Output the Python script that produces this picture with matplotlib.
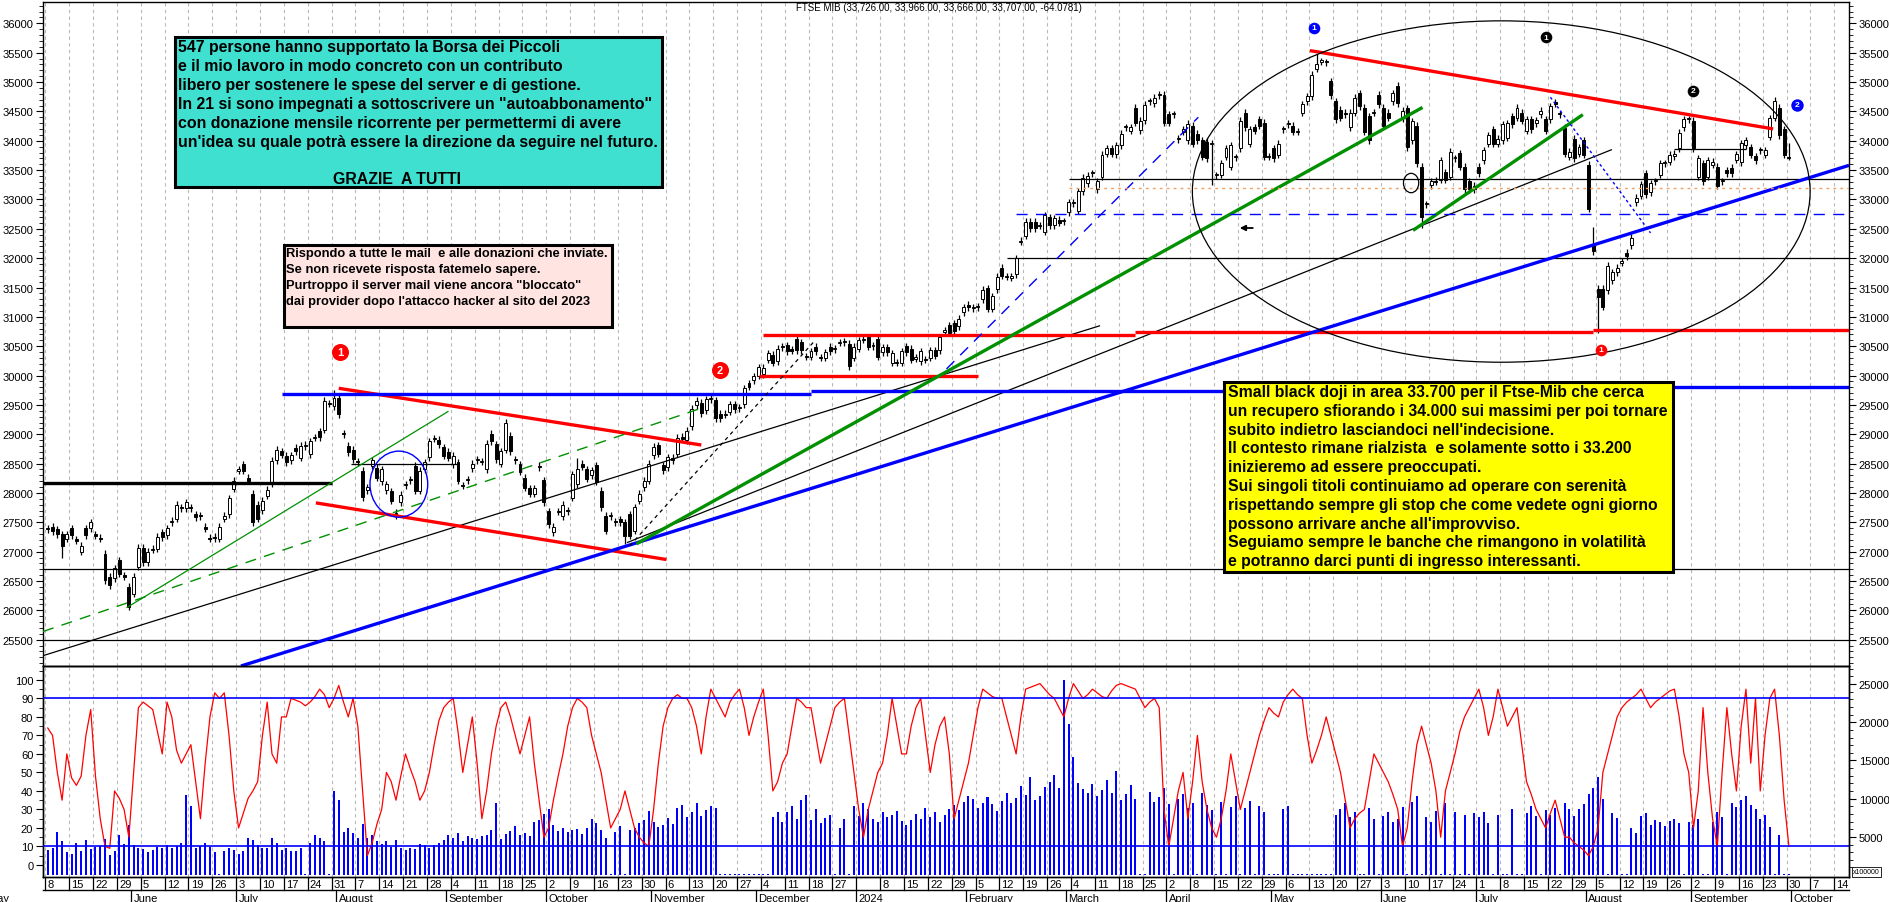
import numpy as np
import pandas as pd
import matplotlib
matplotlib.use("Agg")
import matplotlib.pyplot as plt
import matplotlib.transforms as mtransforms
from matplotlib.patches import Ellipse, Rectangle

plt.rcParams['font.family'] = ['Liberation Sans', 'DejaVu Sans']

# ---- daily candles, one row per week (Mon..Fri), 8 May 2023 -> 30 Sep 2024
opens = [
    [27380, 27420, 27380, 27300, 27220], [27400, 27200, 27000, 27400, 27400],
    [27300, 27240, 26960, 26570, 26550], [26850, 26600, 26400, 26280, 26740],
    [27070, 26820, 27030, 27050, 27330], [27280, 27500, 27560, 27760, 27740],
    [27760, 27640, 27610, 27420, 27240], [27250, 27220, 27560, 27640, 28070],
    [28380, 28490, 28260, 27990, 27800], [27710, 27950, 28160, 28560, 28710],
    [28630, 28560, 28770, 28600, 28800], [28660, 28940, 29050, 29080, 29530],
    [29480, 29620, 29020, 28800, 28740], [28540, 28380, 28050, 28460, 28430],
    [28200, 28050, 28030, 27660, 27840], [28130, 28220, 28460, 28040, 28400],
    [28610, 28920, 28910, 28780, 28700], [28490, 28520, 28130, 28220, 28420],
    [28560, 28530, 28400, 29010, 28830], [28500, 28740, 28970, 28570, 28490],
    [28260, 28080, 27990, 28440, 28220], [27690, 27330, 27680, 27600, 27700],
    [27920, 28150, 28500, 28400, 28300], [28470, 28040, 27610, 27600, 27510],
    [27550, 27500, 27640, 27360, 27870], [28100, 28210, 28640, 28810, 28470],
    [28440, 28600, 28670, 28960, 28900], [29140, 29490, 29540, 29410, 29600],
    [29580, 29350, 29330, 29380, 29510], [29440, 29510, 29870, 29920, 30000],
    [30020, 30270, 30350, 30240, 30480], [30520, 30450, 30620, 30570, 30330],
    [30320, 30490, 30310, 30300, 30490], [30450, 30560, 30570, 30540, 30300],
    [30460, 30610, 30650, 30500, 30620], [30400, 30480, 30220, 30230, 30220],
    [30500, 30460, 30290, 30240, 30280], [30300, 30430, 30430, 30750, 30860],
    [30890, 30840, 31080, 31210, 31150], [31160, 31300, 31490, 31140, 31470],
    [31840, 31680, 31670, 31730, 32280], [32380, 32620, 32620, 32550, 32450],
    [32700, 32560, 32650, 32630, 32780], [32940, 32810, 33140, 33280, 33450],
    [33170, 33390, 33780, 33870, 33770], [33920, 34230, 34170, 34560, 34180],
    [34350, 34670, 34640, 34780, 34780], [34450, 34450, 34030, 34150, 34010],
    [34260, 34120, 34010, 33980, 33950], [33410, 33420, 33730, 33560, 33720],
    [33870, 34480, 33950, 34230, 34370], [34310, 33730, 33870, 33760, 34200],
    [34280, 34260, 34150, 34480, 34670], [34760, 35230, 35350, 35340, 35010],
    [34670, 34530, 34480, 34230, 34480], [34810, 34560, 34420, 34480, 34780],
    [34560, 34480, 34670, 34940, 34380], [34550, 34010, 34260, 33560, 32920],
    [33240, 33320, 33340, 33460, 33390], [33700, 33790, 33560, 33310, 33170],
    [33560, 33670, 33950, 34200, 33950], [34010, 34050, 34420, 34390, 34480],
    [34170, 34370, 34300, 34450, 34370], [34370, 34660, 34450, 34220, 33730],
    [34030, 33780, 34010, 33590, 32230], [31480, 31480, 31450, 31620, 31760],
    [31920, 32090, 32220, 32950, 33060], [33450, 33120, 33310, 33420, 33620],
    [33640, 33740, 33870, 34230, 34370], [34340, 33390, 33620, 33390, 33590],
    [33560, 33310, 33500, 33540, 33680], [33630, 33920, 33890, 33740, 33840],
    [33760, 34070, 34390, 34560, 34200], [33726],
]
closes = [
    [27400, 27350, 27300, 27100, 27300], [27280, 27190, 27100, 27280, 27500],
    [27270, 27220, 26510, 26430, 26720], [26620, 26570, 26060, 26570, 27070],
    [26820, 27000, 27050, 27250, 27250], [27400, 27530, 27800, 27740, 27840],
    [27740, 27590, 27600, 27390, 27220], [27230, 27420, 27610, 27910, 28210],
    [28400, 28380, 28210, 27500, 27560], [27870, 28050, 28550, 28740, 28650],
    [28520, 28640, 28710, 28800, 28820], [28880, 28950, 28950, 29570, 29520],
    [29620, 29340, 29000, 28690, 28570], [28520, 27930, 28100, 28560, 28260],
    [28400, 28150, 27870, 27640, 27970], [28150, 28230, 28040, 28380, 28520],
    [28880, 28930, 28830, 28630, 28600], [28630, 28210, 28120, 28230, 28500],
    [28570, 28540, 28840, 28880, 28570], [28710, 29200, 28710, 28560, 28360],
    [28090, 27990, 28080, 28460, 27840], [27470, 27420, 27690, 27800, 27690],
    [28320, 28400, 28450, 28240, 28390], [28190, 27760, 27360, 27610, 27500],
    [27500, 27270, 27270, 27760, 27990], [28210, 28500, 28790, 28670, 28390],
    [28610, 28560, 28940, 28920, 29060], [29430, 29570, 29360, 29600, 29620],
    [29270, 29270, 29350, 29510, 29430], [29460, 29785, 29810, 29990, 30140],
    [30130, 30380, 30220, 30460, 30490], [30410, 30420, 30430, 30430, 30320],
    [30410, 30410, 30300, 30400, 30410], [30460, 30570, 30580, 30160, 30490],
    [30600, 30620, 30490, 30510, 30320], [30480, 30400, 30380, 30220, 30410],
    [30400, 30270, 30300, 30410, 30270], [30430, 30340, 30650, 30760, 30730],
    [30760, 30970, 31160, 31160, 31160], [31170, 31460, 31140, 31350, 31680],
    [31700, 31690, 31680, 32000, 32300], [32620, 32510, 32510, 32560, 32730],
    [32560, 32680, 32600, 32630, 32950], [32940, 33140, 33370, 33400, 33450],
    [33310, 33760, 33870, 33780, 33920], [34120, 34230, 34230, 34310, 34340],
    [34610, 34670, 34730, 34780, 34310], [34310, 34450, 34030, 34200, 34290],
    [33950, 34010, 33730, 33700, 33950], [33410, 33620, 33870, 33920, 33720],
    [34340, 34230, 34200, 34170, 34260], [33730, 33730, 33700, 33950, 34200],
    [34300, 34150, 34150, 34620, 34760], [35120, 35310, 35350, 35340, 34780],
    [34370, 34390, 34450, 34480, 34730], [34590, 34150, 34010, 34480, 34620],
    [34260, 34390, 34810, 34640, 34510], [33890, 34330, 33620, 32700, 32920],
    [33310, 33300, 33670, 33340, 33810], [33700, 33560, 33170, 33170, 33230],
    [33450, 33840, 34090, 33950, 34030], [34280, 34300, 34280, 34560, 34340],
    [34370, 34200, 34350, 34510, 34170], [34590, 34630, 34450, 33780, 33810],
    [33700, 33890, 33760, 32840, 32120], [31340, 31170, 31870, 31760, 31840],
    [31950, 32030, 32350, 33030, 33260], [33090, 33280, 33310, 33620, 33620],
    [33760, 33780, 34140, 34370, 34370], [33870, 33700, 33310, 33670, 33640],
    [33230, 33310, 33450, 33450, 33770], [33960, 34010, 33760, 33670, 33840],
    [33840, 34380, 34670, 34090, 33760], [33707],
]
# long shadows that stand out (day index -> price)
high_ext = {60: 29760, 96: 29260, 111: 28590, 266: 35480, 324: 32530,
            362: 34750, 365: 33966}
low_ext = {3: 26900, 17: 26000, 73: 27560, 121: 27130, 244: 33250,
           288: 32510, 325: 30730, 365: 33666}

# volume (right scale of lower panel, x100000)
volume = [
    [3300, 3500, 5600, 4500, 3000], [2800, 4200, 3200, 4600, 3400],
    [3700, 3800, 4700, 2600, 3100], [5200, 4100, 6600, 3900, 3600],
    [3400, 3000, 3300, 3700, 3500], [4000, 3500, 3800, 4200, 10500],
    [9000, 3600, 3800, 4200, 3700], [3000, 150, 3200, 3500, 3300],
    [2700, 3100, 4800, 4600, 3900], [3500, 3600, 4900, 4200, 3300],
    [3500, 3200, 3100, 3600, 150], [4200, 5200, 4800, 4500, 150],
    [11000, 9800, 5600, 6100, 5500], [4800, 6700, 4900, 5200, 4500],
    [4100, 4400, 3700, 4600, 3500], [3300, 3600, 3400, 4100, 3900],
    [3500, 3900, 4200, 4600, 5200], [4800, 5500, 4400, 5100, 4800],
    [4700, 5100, 5300, 5900, 9500], [4700, 5400, 5800, 6400, 5200],
    [5500, 5100, 6900, 7200, 8000], [8600, 6500, 5800, 6200, 5600],
    [5900, 6000, 5400, 6100, 7300], [6800, 5900, 4800, 150, 5600],
    [6400, 150, 5900, 6100, 6800], [7200, 8400, 6900, 6300, 6600],
    [7500, 6700, 8800, 9200, 7600], [8200, 9400, 7800, 8500, 9100],
    [8800, 200, 150, 180, 150], [200, 150, 180, 160, 200],
    [150, 180, 7600, 8300, 6900], [8200, 9100, 7400, 9800, 10500],
    [7200, 8600, 6800, 7500, 7900], [150, 6100, 7400, 150, 9000],
    [7800, 9500, 8700, 7400, 6900], [8200, 7600, 7900, 8400, 7100],
    [6500, 7200, 8000, 7400, 8800], [7600, 8300, 7000, 7900, 8700],
    [9200, 8500, 9600, 10400, 9900], [8800, 9500, 10200, 9300, 8400],
    [9700, 10800, 9400, 10100, 11600], [10500, 12800, 9800, 10300, 11500],
    [12200, 13100, 11400, 25500, 19800], [15500, 12100, 11300, 10800, 11900],
    [10400, 11200, 12400, 10700, 13600], [9800, 10600, 11800, 9900, 150],
    [150, 10900, 9600, 10200, 11400], [9300, 150, 9900, 10600, 8800],
    [9400, 150, 10800, 9200, 8500], [150, 9600, 150, 8900, 10400],
    [150, 8800, 9700, 150, 9100], [8300, 150, 150, 150, 8700],
    [9000, 150, 200, 150, 180], [150, 200, 150, 160, 150],
    [7900, 8600, 9400, 7600, 8200], [150, 150, 8800, 7300, 150],
    [7700, 8300, 6900, 7400, 8900], [150, 9600, 10300, 150, 7600],
    [6900, 8400, 150, 9500, 150], [8200, 150, 7900, 150, 8100],
    [7600, 8300, 6800, 150, 7900], [150, 150, 8700, 150, 150],
    [8100, 9000, 7800, 150, 8500], [7900, 8800, 150, 9400, 8600],
    [7800, 8700, 9300, 10600, 11400], [12800, 9900, 150, 8100, 7500],
    [150, 150, 6200, 5500, 7800], [8100, 6600, 7200, 6900, 6400],
    [7100, 7300, 6800, 150, 7000], [6600, 7400, 150, 150, 6900],
    [8200, 7600, 150, 9500, 8900], [9800, 10400, 9200, 8600, 7400],
    [7900, 6300, 150, 5200, 150], [150],
]

# oscillator (left scale of lower panel)
osc = [
    [74, 70, 50, 35, 60], [47, 43, 48, 70, 84], [48, 25, 10, 9, 40],
    [36, 30, 15, 50, 85], [88, 86, 84, 72, 60], [88, 80, 62, 55, 60],
    [65, 45, 25, 55, 80], [93, 90, 93, 70, 40], [20, 28, 36, 40, 45],
    [70, 88, 60, 55, 80], [80, 90, 89, 88, 86], [88, 91, 95, 92, 85],
    [90, 97, 88, 80, 90], [75, 40, 5, 12, 22], [30, 50, 45, 35, 48],
    [60, 52, 45, 35, 40], [50, 65, 78, 85, 88], [90, 72, 50, 65, 80],
    [55, 25, 40, 60, 75], [85, 88, 80, 70, 60], [70, 80, 55, 35, 15],
    [20, 35, 48, 60, 75], [85, 90, 88, 85, 70], [60, 50, 35, 20, 25],
    [30, 40, 30, 20, 15], [12, 10, 30, 55, 75], [85, 90, 92, 90, 90],
    [85, 75, 60, 80, 95], [90, 85, 80, 88, 92], [95, 85, 70, 80, 88],
    [95, 70, 40, 45, 55], [60, 75, 90, 88, 85], [85, 70, 55, 65, 75],
    [85, 88, 90, 70, 50], [30, 15, 30, 40, 50], [55, 70, 90, 75, 60],
    [60, 75, 85, 90, 70], [50, 65, 75, 80, 60], [25, 35, 45, 55, 70],
    [85, 95, 93, 91, 90], [90, 80, 70, 60, 80], [95, 96, 97, 98, 95],
    [92, 90, 85, 80, 90], [98, 94, 90, 92, 95], [93, 91, 90, 94, 97],
    [98, 97, 96, 95, 90], [85, 88, 90, 85, 30], [10, 25, 40, 50, 25],
    [45, 70, 45, 30, 20], [15, 25, 40, 60, 45], [30, 40, 50, 60, 70],
    [78, 85, 82, 80, 88], [92, 95, 92, 90, 70], [55, 62, 70, 80, 70],
    [60, 50, 35, 20, 25], [28, 30, 45, 60, 55], [50, 45, 38, 30, 10],
    [20, 45, 65, 75, 65], [55, 40, 15, 40, 50], [60, 72, 80, 85, 90],
    [95, 85, 70, 80, 95], [85, 75, 80, 85, 65], [45, 38, 30, 25, 20],
    [28, 35, 25, 15, 15], [12, 10, 8, 5, 10], [20, 50, 60, 70, 80],
    [85, 88, 90, 92, 95], [90, 85, 88, 90, 92], [94, 95, 80, 60, 50],
    [20, 40, 85, 50, 25], [10, 50, 85, 60, 40], [75, 95, 55, 90, 40],
    [70, 90, 95, 70, 35], [10],
]

holidays = ['2023-08-15', '2023-12-25', '2023-12-26', '2024-01-01',
            '2024-03-29', '2024-04-01', '2024-05-01', '2024-08-15']

title = "FTSE MIB (33,726.00, 33,966.00, 33,666.00, 33,707.00, -64.0781)"

box1_lines = [
    "547 persone hanno supportato la Borsa dei Piccoli",
    "e il mio lavoro in modo concreto con un contributo",
    "libero per sostenere le spese del server e di gestione.",
    "In 21 si sono impegnati a sottoscrivere un \"autoabbonamento\"",
    "con donazione mensile ricorrente per permettermi di avere",
    "un'idea su quale potrà essere la direzione da seguire nel futuro.",
]
box1_footer = "GRAZIE  A TUTTI"
box2_lines = [
    "Rispondo a tutte le mail  e alle donazioni che inviate.",
    "Se non ricevete risposta fatemelo sapere.",
    "Purtroppo il server mail viene ancora \"bloccato\"",
    "dai provider dopo l'attacco hacker al sito del 2023",
]
box3_lines = [
    "Small black doji in area 33.700 per il Ftse-Mib che cerca",
    "un recupero sfiorando i 34.000 sui massimi per poi tornare",
    "subito indietro lasciandoci nell'indecisione.",
    "Il contesto rimane rialzista  e solamente sotto i 33.200",
    "inizieremo ad essere preoccupati.",
    "Sui singoli titoli continuiamo ad operare con serenità",
    "rispettando sempre gli stop che come vedete ogni giorno",
    "possono arrivare anche all'improvviso.",
    "Seguiamo sempre le banche che rimangono in volatilità",
    "e potranno darci punti di ingresso interessanti.",
]

# hand drawn studies: (day0, price0, day1, price1)
red_thick = [(61, 29783, 137, 28817), (56.2, 27831, 129.7, 26866),
             (264.6, 35536, 361.7, 34202), (150, 30690, 228, 30690),
             (228, 30740, 324, 30740), (324, 30770, 378, 30770),
             (149, 29990, 195, 29990)]
blue_thick = [(40.5, 25052, 377.6, 33581), (49, 29680, 160, 29680),
              (160, 29740, 325, 29740), (325, 29800, 378, 29800)]
green_thick = [(123.4, 27133, 288.2, 34568), (286.2, 32473, 321.8, 34445)]
green_thin = [(16.5, 26044, 84, 29392)]
green_dashed = [(-1, 25640, 136.6, 29433)]
black_thin = [(-1, 25228, 220.6, 30850), (121.4, 27153, 327.9, 33850),
              (63.5, 28500, 86.3, 28500), (341, 33860, 356, 33860),
              (-1, 26700, 378, 26700), (-1, 25500, 378, 25500),
              (201, 32000, 378, 32000), (214, 33350, 378, 33350)]
black_thick = [(-1, 28170, 59.6, 28170)]
blue_dashed = [(188.4, 30113, 241.2, 34401), (203, 32750, 378, 32750)]
blue_dotted = [(315, 34742, 336, 32430)]
black_dotted = [(122, 27100, 160.5, 30567)]
orange_dotted = [(214, 33200, 378, 33200)]
# (day, price, label, colour, size)
markers = [(61.3, 30399, '1', '#ff0000', 150), (140.9, 30091, '2', '#ff0000', 150),
           (265.4, 35924, '1', '#0000ff', 70), (314, 35760, '1', '#000000', 70),
           (344.8, 34856, '2', '#000000', 70), (366.8, 34610, '2', '#0000ff', 80),
           (325.6, 30440, '1', '#ff0000', 70)]

# -------------------------------------------------------------------------
o = np.array(sum(opens, []), float)
c = np.array(sum(closes, []), float)
v = np.array(sum(volume, []), float)
k = np.array(sum(osc, []), float)
dates = pd.bdate_range('2023-05-08', '2024-09-30')
n = len(dates)
assert len(o) == n and len(c) == n and len(v) == n and len(k) == n, (len(o), len(c), len(v), len(k), n)
x = np.arange(n)

hi = np.maximum(o, c) + 60
lo = np.minimum(o, c) - 60
for d, p in high_ext.items():
    hi[d] = p
for d, p in low_ext.items():
    lo[d] = p

W, H = 1890, 903
def fbox(l, t, r, b):
    return [l / W, 1 - b / H, (r - l) / W, (b - t) / H]

fig = plt.figure(figsize=(18.9, 9.03), dpi=100)
ax = fig.add_axes(fbox(43, 3, 1849, 667))
ax2 = fig.add_axes(fbox(43, 667, 1849, 878), sharex=ax)
axv = ax2.twinx()

XL = (-1.0, 377.6)
ax.set_xlim(*XL)
ax.set_ylim(25052, 36364)

# weekly grid
future = pd.bdate_range('2024-10-01', '2024-10-18')
alldates = dates.append(future)
week_idx = [i for i, d in enumerate(alldates) if d.weekday() == 0]
for i in week_idx:
    for a in (ax, ax2):
        a.axvline(i - 0.5, color='#b8b8b8', lw=0.8, dashes=(3, 3), zorder=0)

# candles
up = c >= o
body_lo = np.minimum(o, c)
body_h = np.maximum(np.abs(c - o), 18)
ax.vlines(x, lo, hi, color='black', lw=0.9, zorder=3)
ax.bar(x, body_h, bottom=body_lo, width=0.62,
       color=np.where(up, 'white', 'black'), edgecolor='black', linewidth=0.7, zorder=3.1)

def draw(segs, **kw):
    for x0, y0, x1, y1 in segs:
        ax.plot([x0, x1], [y0, y1], solid_capstyle='butt', **kw)

draw(black_thin, color='black', lw=0.9, zorder=4)
draw(black_thick, color='black', lw=2.4, zorder=4)
draw(red_thick, color='#ff0000', lw=2.4, zorder=4)
draw(blue_thick, color='#0000ff', lw=2.4, zorder=4)
draw(green_thick, color='#009000', lw=2.4, zorder=4)
draw(green_thin, color='#009000', lw=0.9, zorder=4)
draw(green_dashed, color='#009000', lw=1.0, dashes=(8, 6), zorder=4)
draw(blue_dashed, color='#0000ff', lw=1.0, dashes=(8, 6), zorder=4)
draw(blue_dotted, color='#0000ff', lw=1.0, dashes=(2, 2), zorder=4)
draw(black_dotted, color='black', lw=0.9, dashes=(3, 3), zorder=4)
draw(orange_dotted, color='#f0a060', lw=1.0, dashes=(2, 3), zorder=4)

ax.add_patch(Ellipse((73.6, 28150), 12.1, 1125, fill=False, ec='#0000ff', lw=1.0, zorder=4))
ax.add_patch(Ellipse((304.7, 33135), 129.5, 5816, fill=False, ec='black', lw=0.9, zorder=4))
ax.add_patch(Ellipse((285.8, 33280), 3.2, 330, fill=False, ec='black', lw=0.9, zorder=4))
ax.annotate('', xy=(249.3, 32514), xytext=(253.2, 32514),
            arrowprops=dict(arrowstyle='-|>', color='black', lw=1.3, mutation_scale=8), zorder=5)

for d, p, lab, col, s in markers:
    ax.scatter([d], [p], s=s, color=col, zorder=6, linewidths=0)
    ax.text(d, p, lab, color='white', fontsize=6 if s < 100 else 8, fontweight='bold',
            ha='center', va='center', zorder=7)

ax.yaxis.set_ticks_position('both')
ax.set_yticks(np.arange(25500, 36001, 500))
ax.set_yticks(np.arange(25100, 36400, 100), minor=True)
ax.tick_params(axis='y', which='major', labelleft=True, labelright=True,
               direction='out', length=5, labelsize=8, pad=2)
ax.tick_params(axis='y', which='minor', direction='out', length=3)
ax.tick_params(axis='x', which='both', bottom=False, labelbottom=False)

# lower panel: volume bars on the right scale, oscillator on the left scale
axv.bar(x, v, width=0.42, color='#0000ff', zorder=2)
axv.set_ylim(-250, 27370)
axv.set_yticks(np.arange(5000, 25001, 5000))
axv.set_yticks(np.arange(1000, 27001, 1000), minor=True)
axv.tick_params(axis='y', which='major', direction='out', length=5, labelsize=8, pad=2)
axv.tick_params(axis='y', which='minor', direction='out', length=3)

ax2.set_zorder(axv.get_zorder() + 1)
ax2.patch.set_visible(False)
ax2.plot(x, k, color='#ff0000', lw=0.9, zorder=3)
ax2.axhline(90, color='#0000ff', lw=1.2, zorder=4)
ax2.axhline(10, color='#0000ff', lw=1.2, zorder=4)
ax2.set_ylim(-6.5, 107.5)
ax2.set_yticks(np.arange(0, 101, 10))
ax2.set_yticks(np.arange(0, 106, 5), minor=True)
ax2.tick_params(axis='y', which='major', direction='out', length=5, labelsize=8, pad=2)
ax2.tick_params(axis='y', which='minor', direction='out', length=3)
ax2.tick_params(axis='x', which='both', bottom=False, labelbottom=False)
axv.tick_params(axis='x', which='both', bottom=False, labelbottom=False)
ax2.set_xlim(*XL)

for a in (ax, ax2, axv):
    for sp in a.spines.values():
        sp.set_linewidth(1.0)

# date rows under the chart
tr = mtransforms.blended_transform_factory(ax2.transData, ax2.transAxes)
r1 = -13 / 211.0
r2 = -26 / 211.0
hol = set(pd.to_datetime(holidays))
for i in week_idx:
    week = [alldates[j] for j in range(i, min(i + 5, len(alldates)))]
    first = next((d for d in week if d not in hol), week[0])
    ax2.plot([i - 0.5, i - 0.5], [0, r1], transform=tr, color='black', lw=0.9, clip_on=False)
    if first == pd.Timestamp('2024-01-02'):
        continue
    ax2.text(i - 0.5 + 0.45, r1 / 2 - 0.003, str(first.day), transform=tr, fontsize=8,
             ha='left', va='center', clip_on=False)
month_idx = [i for i in range(1, len(alldates)) if alldates[i].month != alldates[i - 1].month]
for i in month_idx:
    d = alldates[i]
    name = '2024' if (d.month == 1 and d.year == 2024) else d.strftime('%B')
    ax2.plot([i - 0.5, i - 0.5], [r1, r2], transform=tr, color='black', lw=0.9, clip_on=False)
    ax2.text(i - 0.5 + 0.45, r1 - 0.012, name, transform=tr, fontsize=8,
             ha='left', va='top', clip_on=False)
ax2.text(-12.5, r1 - 0.012, 'May', transform=tr, fontsize=8, ha='left', va='top', clip_on=False)
ax2.plot([XL[0], XL[1]], [r1, r1], transform=tr, color='black', lw=1.0, clip_on=False)

# title
fig.text(796 / W, 1 - 8 / H, title, fontsize=7, ha='left', va='center')
fig.text(1853 / W, 1 - 873 / H, 'x100000', fontsize=5, ha='left', va='center',
         bbox=dict(boxstyle='square,pad=0.15', fc='white', ec='black', lw=0.6))

# text boxes
def tbox(l, t, r, b, fc):
    fig.add_artist(Rectangle((l / W, 1 - b / H), (r - l) / W, (b - t) / H,
                             transform=fig.transFigure, fc=fc, ec='black', lw=2.2, zorder=8))

tbox(175, 38, 662, 188, '#40e0d0')
for j, s in enumerate(box1_lines):
    fig.text(178 / W, 1 - (47.5 + 18.9 * j) / H, s, fontsize=11.4, fontweight='bold',
             ha='left', va='center', zorder=9)
fig.text(333 / W, 1 - 179.5 / H, box1_footer, fontsize=11.4, fontweight='bold',
         ha='left', va='center', zorder=9)

tbox(284, 246, 612, 328, '#ffe4e1')
for j, s in enumerate(box2_lines):
    fig.text(286 / W, 1 - (254.5 + 15.7 * j) / H, s, fontsize=9.3, fontweight='bold',
             ha='left', va='center', zorder=9)

tbox(1224, 383, 1673, 573, '#ffff00')
for j, s in enumerate(box3_lines):
    fig.text(1228 / W, 1 - (392.5 + 18.8 * j) / H, s, fontsize=11.3, fontweight='bold',
             ha='left', va='center', zorder=9)

fig.savefig('out.png', dpi=100)
